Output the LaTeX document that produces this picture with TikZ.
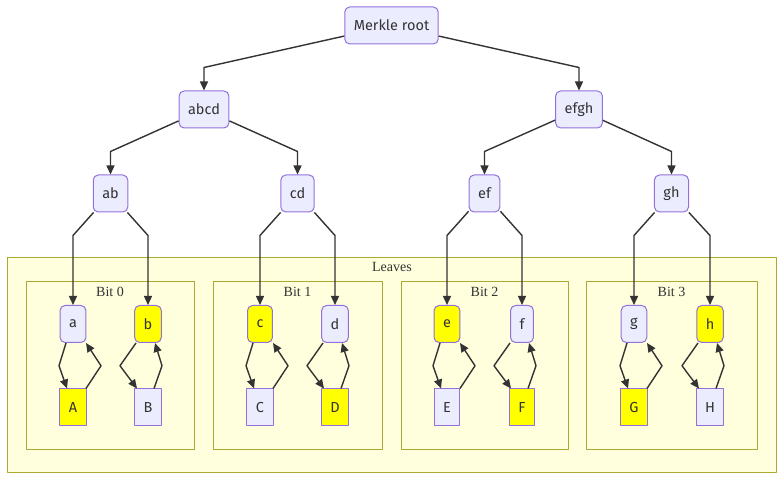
\documentclass[tikz,border=0pt]{standalone}
\usepackage{fontspec}
\setmainfont{Liberation Serif}
\newfontfamily\hashfont{Fira Sans}
\usetikzlibrary{arrows.meta, shapes, positioning, calc}
\usepackage{xcolor}
\definecolor{nodefill}{RGB}{236,236,255}
\definecolor{nodeline}{RGB}{147,112,219}
\definecolor{hashyellow}{RGB}{255,255,0}
\definecolor{clusterfill}{RGB}{255,255,222}
\definecolor{clusterline}{RGB}{170,170,51}
\definecolor{linkgray}{RGB}{51,51,51}

\begin{document}
\begin{tikzpicture}[
        line join=bevel,
        hashnode/.style={shape=rectangle, rounded corners=5pt, fill=nodefill, draw=nodeline, line width=1pt, minimum height=37pt, inner xsep=9pt, text=linkgray, font=\hashfont\fontsize{14.5}{16}\selectfont},
        leafnode/.style={hashnode, sharp corners},
        marked/.style={fill=hashyellow},
        cluster/.style={fill=clusterfill, draw=clusterline, line width=1pt},
        clusterlabel/.style={text=linkgray, font=\fontsize{14}{16}\selectfont},
        link/.style={draw=linkgray, line width=1.4pt, -{Triangle[length=9pt, width=8pt]}}
        ]
        \useasboundingbox (0pt, 0pt) rectangle (784pt, 481pt);

        %% Clusters
        \draw[cluster] (7pt, 8pt) rectangle (776pt, 223pt);
        \node[clusterlabel] (leavestitle) at (392pt, 214pt) {Leaves};
        \foreach \l/\r/\n in {26pt/194pt/0, 213pt/382pt/1, 401pt/568pt/2, 586pt/757pt/3} {
            \draw[cluster] (\l, 31pt) rectangle (\r, 199pt);
            \node[clusterlabel] (bit\n) at ($(\l, 189pt)!0.5!(\r, 189pt)$) {Bit \n};
        }

        %% Hash tree
        \node[hashnode] (root) at (391.5pt, 455.5pt) {Merkle root};
        \node[hashnode] (abcd) at (204pt, 371.5pt) {abcd};
        \node[hashnode] (efgh) at (579pt, 371.5pt) {efgh};
        \node[hashnode] (ab) at (110.5pt, 287.5pt) {ab};
        \node[hashnode] (cd) at (297.5pt, 287.5pt) {cd};
        \node[hashnode] (ef) at (484.5pt, 287.5pt) {ef};
        \node[hashnode] (gh) at (671.5pt, 287.5pt) {gh};

        %% Leaves
        \node[hashnode] (a) at (73pt, 157pt) {a};
        \node[hashnode, marked] (b) at (148pt, 157pt) {b};
        \node[hashnode, marked] (c) at (260pt, 157pt) {c};
        \node[hashnode] (d) at (335pt, 157pt) {d};
        \node[hashnode, marked] (e) at (447pt, 157pt) {e};
        \node[hashnode] (f) at (522pt, 157pt) {f};
        \node[hashnode] (g) at (634pt, 157pt) {g};
        \node[hashnode, marked] (h) at (710pt, 157pt) {h};

        \node[leafnode, marked] (A) at (73pt, 73.5pt) {A};
        \node[leafnode] (B) at (148pt, 73.5pt) {B};
        \node[leafnode] (C) at (260pt, 73.5pt) {C};
        \node[leafnode, marked] (D) at (335pt, 73.5pt) {D};
        \node[leafnode] (E) at (447pt, 73.5pt) {E};
        \node[leafnode, marked] (F) at (522pt, 73.5pt) {F};
        \node[leafnode, marked] (G) at (634pt, 73.5pt) {G};
        \node[leafnode] (H) at (710pt, 73.5pt) {H};

        %% Links
        \foreach \p/\c in {root/abcd, root/efgh, abcd/ab, abcd/cd, efgh/ef, efgh/gh, ab/a, ab/b, cd/c, cd/d, ef/e, ef/f, gh/g, gh/h} {
            \draw[link] (\p) -- ([yshift=-23pt]\p.south -| \c) -- (\c);
        }
        \foreach \u/\l in {a/A, c/C, e/E, g/G} {
            \draw[link] ([xshift=-7pt]\u.south) -- ($(\u.south)!0.5!(\l.north) + (-14pt, 0)$) -- ([xshift=-6pt]\l.north);
            \draw[link] ([xshift=13pt]\l.north) -- ($(\u.south)!0.5!(\l.north) + (28pt, 0)$) -- ([xshift=13pt]\u.south);
        }
        \foreach \u/\l in {b/B, d/D, f/F, h/H} {
            \draw[link] ([xshift=-12pt]\u.south) -- ($(\u.south)!0.5!(\l.north) + (-28pt, 0)$) -- ([xshift=-11pt]\l.north);
            \draw[link] ([xshift=6pt]\l.north) -- ($(\u.south)!0.5!(\l.north) + (14pt, 0)$) -- ([xshift=7pt]\u.south);
        }
\end{tikzpicture}
\end{document}
